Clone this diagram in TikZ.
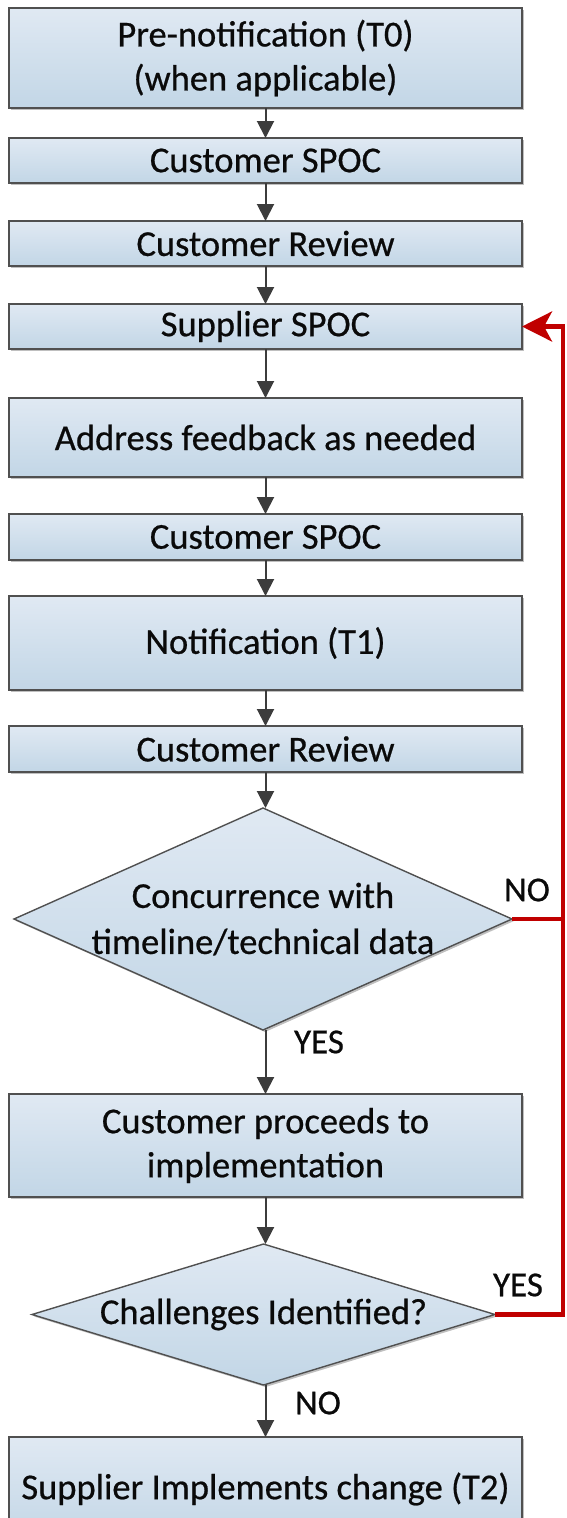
\documentclass[tikz,border=0pt]{standalone}
\usepackage{fontspec}
\setmainfont[FakeBold=0.6]{Carlito}
\usetikzlibrary{arrows.meta,shapes.geometric,shadows}
\definecolor{boxtop}{RGB}{224,233,243}
\definecolor{boxbot}{RGB}{194,214,230}
\definecolor{boxline}{RGB}{80,80,80}
\definecolor{arr}{RGB}{60,60,60}
\definecolor{loopred}{RGB}{192,0,0}
\definecolor{txt}{RGB}{10,10,10}
\tikzset{
  stepbox/.style={rectangle, draw=boxline, line width=1.4pt,
    top color=boxtop, bottom color=boxbot, minimum width=513pt,
    inner sep=0pt, outer sep=0pt, align=center,
    font=\fontsize{36.5}{44}\selectfont, text=txt,
    drop shadow={shadow xshift=2pt, shadow yshift=-2pt, opacity=0.25, fill=black}},
  decision/.style={diamond, draw=boxline, line width=1.4pt,
    top color=boxtop, bottom color=boxbot, inner sep=0pt, outer sep=0pt,
    drop shadow={shadow xshift=2pt, shadow yshift=-2pt, opacity=0.25, fill=black}},
  dtext/.style={align=center, font=\fontsize{36.5}{46}\selectfont, text=txt, inner sep=0pt},
  flow/.style={draw=arr, line width=2pt, -{Triangle[length=17pt 0 0,width=17pt 0 0]}},
  loopline/.style={draw=loopred, line width=4.5pt, line join=miter},
  lbl/.style={font=\fontsize{35}{40}\selectfont, text=txt, inner sep=0pt}
}
\begin{document}
\begin{tikzpicture}[x=1pt,y=-1pt]
\useasboundingbox (0,0) rectangle (566,1518);
\clip (0,0) rectangle (566,1518);
\node[stepbox, minimum height=100pt] (b1) at (265.5,58) {Pre-notification (T0)\\(when applicable)};
\node[stepbox, minimum height=45pt] (b2) at (265.5,160.5) {Customer SPOC};
\node[stepbox, minimum height=45pt] (b3) at (265.5,243.5) {Customer Review};
\node[stepbox, minimum height=45pt] (b4) at (265.5,326.5) {Supplier SPOC};
\node[stepbox, minimum height=79pt] (b5) at (265.5,437.5) {Address feedback as needed};
\node[stepbox, minimum height=46pt] (b6) at (265.5,537) {Customer SPOC};
\node[stepbox, minimum height=94pt] (b7) at (265.5,643) {Notification (T1)};
\node[stepbox, minimum height=46pt] (b8) at (265.5,749) {Customer Review};
\node[decision, minimum width=498pt, minimum height=222pt] (d1) at (263,919) {};
\node[dtext] (t1) at (d1.center) {Concurrence with\\timeline/technical data};
\node[stepbox, minimum height=103pt] (b9) at (265.5,1145.5) {Customer proceeds to\\implementation};
\node[decision, minimum width=463pt, minimum height=141pt] (d2) at (263.5,1314.5) {};
\node[dtext] (t2) at (d2.center) {Challenges Identified?};
\node[stepbox, minimum height=104pt] (b10) at (265.5,1489) {Supplier Implements change (T2)};

\draw[flow] (b1) -- (b2);
\draw[flow] (b2) -- (b3);
\draw[flow] (b3) -- (b4);
\draw[flow] (b4) -- (b5);
\draw[flow] (b5) -- (b6);
\draw[flow] (b6) -- (b7);
\draw[flow] (b7) -- (b8);
\draw[flow] (b8.south) -- (b8.south |- d1.north);
\draw[flow] (b9.north |- d1.south) -- (b9.north);
\draw[flow] (b9.south) -- (b9.south |- d2.north);
\draw[flow] (b10.north |- d2.south) -- (b10.north);

\coordinate (rx) at (563,326.5);
\draw[loopline] (d1.east) -- (d1.east -| rx);
\draw[loopline, -{Stealth[length=30pt 0 0,width=30pt 0 0,inset=8pt 0 0]}] (d2.east) -- (d2.east -| rx) -- (rx) -- (b4.east);

\node[lbl] (no1) at (527,890) {NO};
\node[lbl] (yes1) at (319,1042) {YES};
\node[lbl] (yes2) at (518,1285) {YES};
\node[lbl] (no2) at (318,1403) {NO};
\end{tikzpicture}
\end{document}
